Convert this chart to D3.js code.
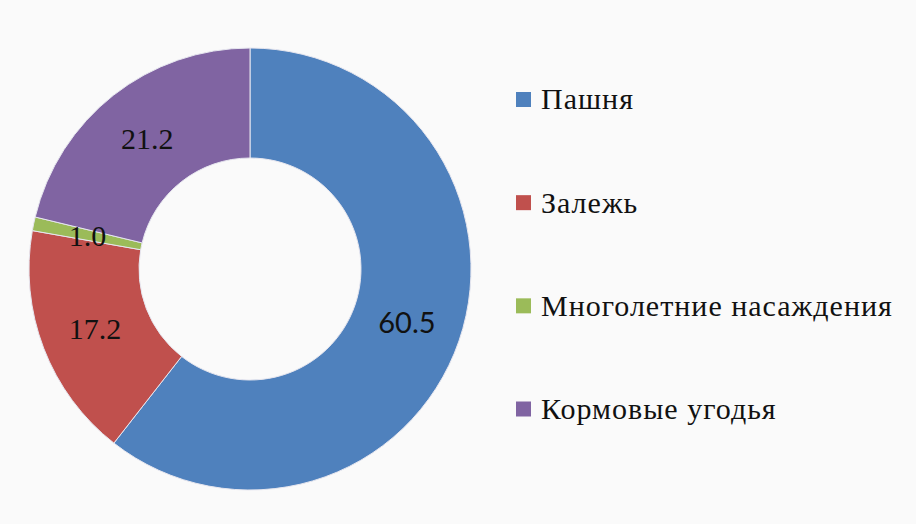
<!DOCTYPE html>
<html><head><meta charset="utf-8">
<script src="https://cdnjs.cloudflare.com/ajax/libs/d3/7.8.5/d3.min.js"></script>
</head><body>
<div style="position:absolute;left:-9999px;top:0;font-family:'Liberation Serif';font-size:30px">Пашня Залежь 21.2</div>
<div style="position:absolute;left:-9999px;top:40px;font-family:'Lato';font-size:29px">60.5</div>
<svg id="chart" width="916" height="524"></svg>
<script>
const categories = ["Пашня", "Залежь", "Многолетние насаждения", "Кормовые угодья"];
const values = [60.5, 17.2, 1.0, 21.2];
const labels = ["60.5", "17.2", "1.0", "21.2"];
const colors = ["#4f81bd", "#c0504d", "#9bbb59", "#8064a2"];

d3.select("body").style("margin", "0px").style("background", "#fafafa");
d3.select("#chart").style("display", "block");

const serifFam = "Liberation Serif";
const sansFam = "Lato";

const svg = d3.select("#chart");
svg.append("rect").attr("width", 916).attr("height", 524).attr("fill", "#fafafa");
const cx = 250, cy = 269, rOuter = 221, rInner = 111;
const data = categories.map((c, i) => ({name: c, value: values[i], label: labels[i], color: colors[i]}));
const pie = d3.pie().value(d => d.value).sort(null);
const arc = d3.arc().innerRadius(rInner).outerRadius(rOuter);
const arcs = pie(data);
svg.selectAll("path").data(arcs).join("path")
  .attr("transform", `translate(${cx},${cy})`)
  .attr("d", arc).attr("fill", d => d.data.color)
  .attr("stroke", "#e6e6ef").attr("stroke-width", 1);
svg.selectAll("text.val").data(arcs).join("text").attr("class", "val")
  .attr("x", d => cx + arc.centroid(d)[0])
  .attr("y", d => cy + arc.centroid(d)[1])
  .attr("text-anchor", "middle").attr("dy", "0.35em")
  .attr("font-family", (d, i) => i === 0 ? sansFam : serifFam)
  .style("font-family", (d, i) => `"${i === 0 ? sansFam : serifFam}"`)
  .attr("font-size", (d, i) => i === 0 ? 29 : 30)
  .attr("fill", "#111")
  .text(d => d.data.label);

const ly = d3.scalePoint().domain(categories).range([99.5, 409]);
svg.selectAll("rect.key").data(data).join("rect").attr("class", "key")
  .attr("x", 516).attr("y", d => ly(d.name) - 7.5).attr("width", 15).attr("height", 15)
  .attr("fill", d => d.color);
svg.selectAll("text.key").data(data).join("text").attr("class", "key")
  .attr("x", 541).attr("y", d => ly(d.name)).attr("dy", "0.33em")
  .attr("font-family", serifFam)
  .style("font-family", `"${serifFam}"`).attr("font-size", 30).attr("letter-spacing", 1)
  .attr("fill", "#111")
  .text(d => d.name);

// force layout so fonts are requested before the load event
svg.selectAll("text").each(function() { this.getBBox(); });
</script></body></html>
